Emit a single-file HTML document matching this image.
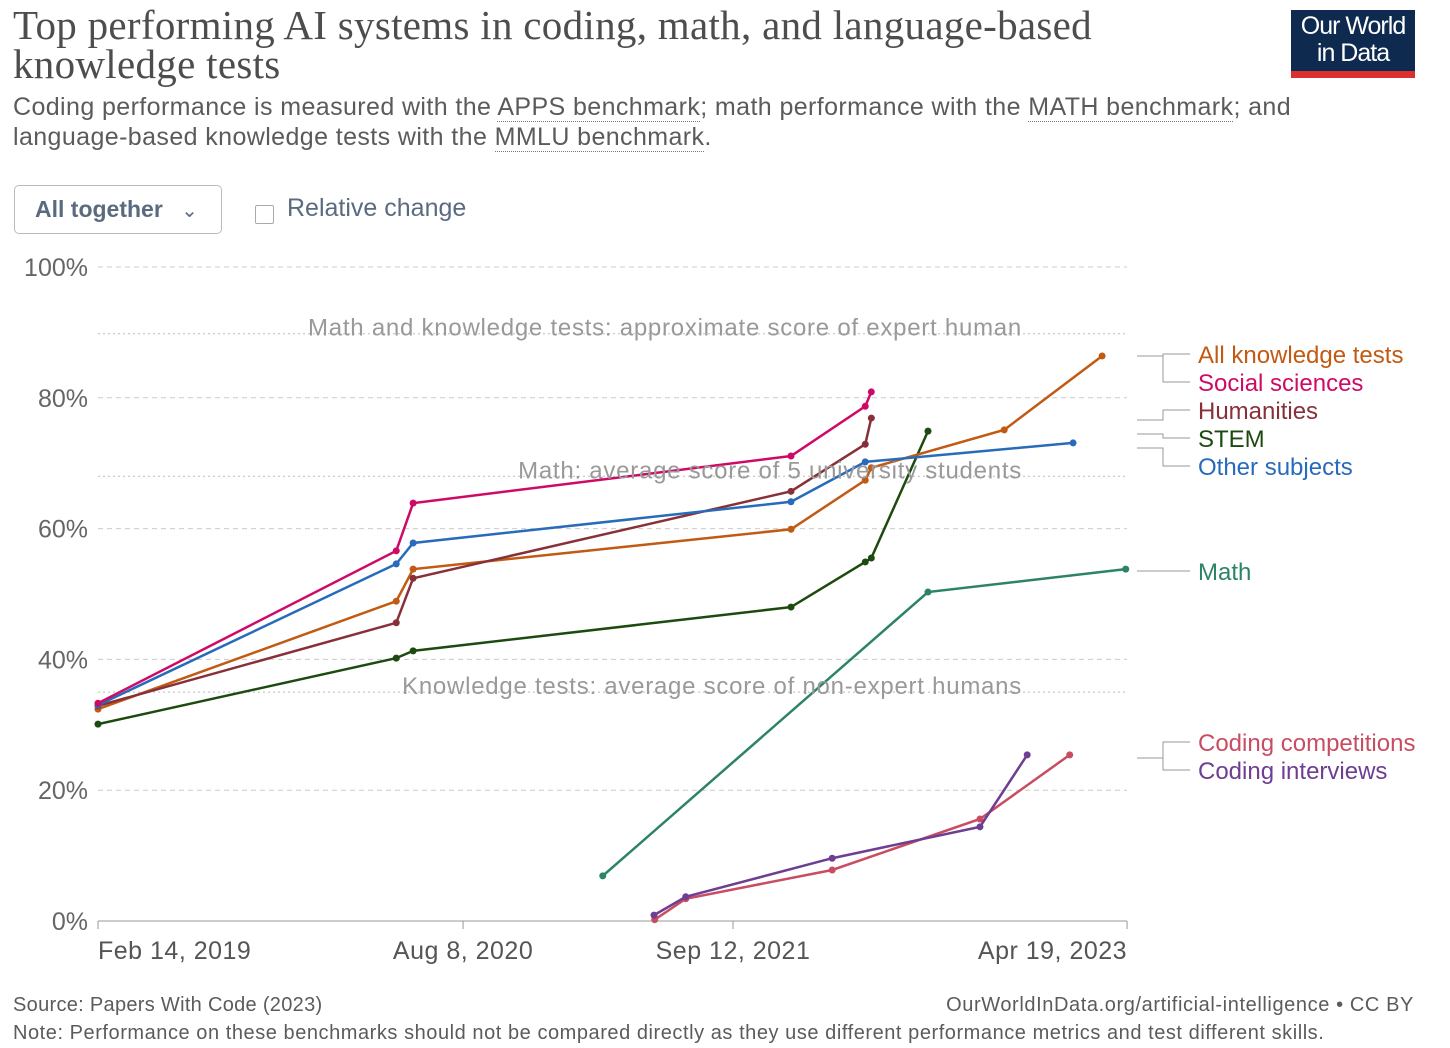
<!DOCTYPE html>
<html><head><meta charset="utf-8"><style>
body{margin:0;background:#fff;font-family:"Liberation Sans",sans-serif;}
#wrap{position:relative;width:1450px;height:1048px;overflow:hidden;}
h1{position:absolute;left:13px;top:6px;margin:0;font-family:"Liberation Serif",serif;font-weight:normal;font-size:41px;line-height:39px;color:#4d4d4d;width:1250px;letter-spacing:0.3px}
.sub{position:absolute;left:13px;top:92px;font-size:25px;line-height:30px;color:#5b5b5b;width:1350px;letter-spacing:0.4px}
.sub u{text-decoration:none;border-bottom:1px dotted #777;}
.logo{position:absolute;left:1291px;top:10px;width:124px;height:68px;background:#0e2a4f;color:#fff;font-size:25px;line-height:27px;text-align:center;padding-top:3px;box-sizing:border-box;border-bottom:7px solid #dc2f2f;letter-spacing:-1px}
.dd{position:absolute;left:14px;top:185px;width:208px;height:49px;border:1px solid #bbb;border-radius:5px;box-sizing:border-box;font-size:23px;font-weight:bold;color:#5b6b7f;line-height:47px;padding-left:20px;}
.cb{position:absolute;left:255px;top:205px;width:17px;height:17px;border:1px solid #aaa;border-radius:2px;}
.rc{position:absolute;left:287px;top:194px;font-size:25px;color:#5b6b7f;}
.foot{position:absolute;font-size:20px;color:#5b5b5b;letter-spacing:0.3px}
</style></head><body><div id="wrap">
<h1>Top performing AI systems in coding, math, and language-based knowledge tests</h1>
<div class="sub">Coding performance is measured with the <u>APPS benchmark</u>; math performance with the <u>MATH benchmark</u>; and language-based knowledge tests with the <u>MMLU benchmark</u>.</div>
<div class="logo">Our World<br>in Data</div>
<div class="dd">All together <span style="font-weight:normal;font-size:20px;margin-left:12px">&#8964;</span></div>
<div class="cb"></div>
<div class="rc">Relative change</div>
<svg id="chart" width="1450" height="1048" style="position:absolute;left:0;top:0"></svg>
<div class="foot" style="left:13px;top:994px">Source: Papers With Code (2023)</div>
<div class="foot" style="right:36px;top:994px;letter-spacing:0.6px">OurWorldInData.org/artificial-intelligence • CC BY</div>
<div class="foot" style="left:13px;top:1022px;letter-spacing:0.55px">Note: Performance on these benchmarks should not be compared directly as they use different performance metrics and test different skills.</div>
</div>
<script>
const yTicks=[0,20,40,60,80,100];
const xTickDays=[0,541,941,1525];
const xTickLabels=["Feb 14, 2019","Aug 8, 2020","Sep 12, 2021","Apr 19, 2023"];
const seriesNames=["Social sciences","Humanities","All knowledge tests","Other subjects","STEM","Math","Coding competitions","Coding interviews"];
const seriesColors=["#cf0a66","#883039","#c15a13","#286bbb","#1d4a0f","#2c8465","#c94d62","#6d3e91"];
const socialDays=[0,442,467,1027,1137,1146], socialVals=[33.3,56.6,63.9,71.1,78.7,80.9];
const humDays=[0,442,467,1027,1137,1146], humVals=[32.9,45.6,52.4,65.7,72.9,76.9];
const allDays=[0,442,467,1027,1137,1146,1343,1488], allVals=[32.4,48.9,53.8,59.9,67.4,69.3,75.1,86.4];
const otherDays=[0,442,467,1027,1137,1445], otherVals=[33,54.6,57.8,64.1,70.2,73.1];
const stemDays=[0,442,467,1027,1137,1146,1230], stemVals=[30.1,40.2,41.3,48.0,54.9,55.5,74.9];
const mathDays=[748,1230,1523], mathVals=[6.9,50.3,53.8];
const compDays=[825,871,1088,1307,1440], compVals=[0.2,3.4,7.8,15.6,25.4];
const intDays=[824,871,1088,1307,1377], intVals=[0.9,3.7,9.6,14.4,25.4];
const refVals=[89.8,68,35];
const refLabels=["Math and knowledge tests: approximate score of expert human","Math: average score of 5 university students","Knowledge tests: average score of non-expert humans"];
const labelYs=[354,382,410,438,466,571,742,770];
const labelOrder=[2,0,1,4,3,5,6,7];

const svg=document.getElementById('chart');const NS="http://www.w3.org/2000/svg";
const x=d=>98+d*0.6748, y=v=>921-v*6.54;
function mk(t,a,p){const e=document.createElementNS(NS,t);for(const k in a)e.setAttribute(k,a[k]);(p||svg).appendChild(e);return e;}
yTicks.forEach(v=>{
 const l=mk('line',{x1:98,x2:1127,y1:y(v),y2:y(v),stroke:v?'#ccc':'#999','stroke-dasharray':v?'5,4':'none'});
 
 
 const t=mk('text',{x:88,y:y(v)+9,'text-anchor':'end','font-size':25,fill:'#666'});t.textContent=v+'%';
 
 
});
xTickDays.forEach((d,i)=>{
 mk('line',{x1:x(d),x2:x(d),y1:921,y2:929,stroke:'#999'});
 const t=mk('text',{x:x(d),y:959,'text-anchor':i==0?'start':i==3?'end':'middle','font-size':25,fill:'#555','letter-spacing':0.5});t.textContent=xTickLabels[i];
 
 
});
refVals.forEach((v,i)=>{
 const l=mk('line',{x1:98,x2:1127,y1:y(v),y2:y(v),stroke:'#bbb','stroke-dasharray':'2,3'});
 
 
});
const data=[[socialDays,socialVals],[humDays,humVals],[allDays,allVals],[otherDays,otherVals],[stemDays,stemVals],[mathDays,mathVals],[compDays,compVals],[intDays,intVals]];
const drawOrder=[5,6,7,4,2,1,3,0];
drawOrder.forEach(i=>{
 const [ds,vs]=data[i];
 const p=mk('polyline',{points:ds.map((d,j)=>x(d)+','+y(vs[j])).join(' '),fill:'none',stroke:seriesColors[i],'stroke-width':2.5});
 
 
 ds.forEach((d,j)=>{const c=mk('circle',{cx:x(d),cy:y(vs[j]),r:3.5,fill:seriesColors[i]});
 
 });
});
refVals.forEach((v,i)=>{
 const t=mk('text',{x:1022,y:y(v)+2,'text-anchor':'end','font-size':24,fill:'#999','letter-spacing':0.75});t.textContent=refLabels[i];
 
 
});
labelOrder.forEach((si,k)=>{
 const ly=labelYs[k];
 const t=mk('text',{x:1198,y:ly+9,'font-size':24,fill:seriesColors[si]});t.textContent=seriesNames[si];
 
 
 const sy=k==5?ly:(k<5?[354,354,418,432,446][k]+2:758);
 mk('polyline',{points:`1137,${sy} 1163,${sy} 1163,${ly} 1190,${ly}`,fill:'none',stroke:'#999','stroke-width':1});
});
</script></body></html>
